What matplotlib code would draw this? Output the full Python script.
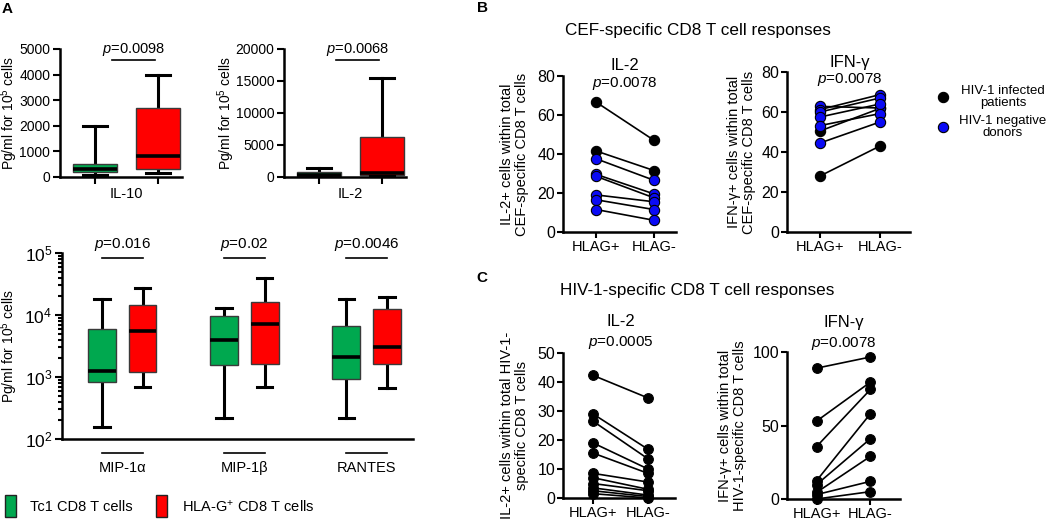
import matplotlib
matplotlib.use('Agg')
import matplotlib.pyplot as plt
import matplotlib.transforms as mtransforms
from matplotlib.patches import Rectangle
from matplotlib.lines import Line2D

plt.rcParams['font.family'] = ['Liberation Sans', 'DejaVu Sans']
plt.rcParams['mathtext.fontset'] = 'custom'
plt.rcParams['mathtext.rm'] = 'Liberation Sans'
plt.rcParams['mathtext.it'] = 'Liberation Sans:italic'
plt.rcParams['mathtext.bf'] = 'Liberation Sans:bold'

# ---------------- DATA ----------------
group_labels = ['Tc1 CD8 T cells', 'HLA-G$^{+}$ CD8 T cells']
# box stats order: [whislo, q1, median, q3, whishi]
top_cytokines = ['IL-10', 'IL-2']
top_pvalues = ['0.0098', '0.0068']
il10_tc1 = [65, 200, 320, 520, 1990]
il10_hlag = [157, 330, 811, 2680, 3966]
il2_tc1 = [20, 100, 330, 790, 1470]
il2_hlag = [80, 250, 620, 6180, 15500]
il10_ticks = [0, 1000, 2000, 3000, 4000, 5000]
il2_ticks = [0, 5000, 10000, 15000, 20000]

chem_names = ['MIP-1α', 'MIP-1β', 'RANTES']
chem_pvalues = ['0.016', '0.02', '0.0046']
mip1a_tc1 = [154, 830, 1247, 5930, 17900]
mip1a_hlag = [690, 1200, 5580, 14560, 27500]
mip1b_tc1 = [217, 1575, 4010, 9460, 13000]
mip1b_hlag = [690, 1600, 7130, 16300, 39800]
rantes_tc1 = [217, 940, 2065, 6550, 17900]
rantes_hlag = [676, 1630, 3090, 12700, 19500]

pair_labels = ['HLAG+', 'HLAG-']
legend_b = ['HIV-1 infected\npatients', 'HIV-1 negative\ndonors']
# Panel B (CEF-specific); status: 1 = HIV-1 infected, 0 = HIV-1 negative
b_status = [1, 1, 0, 0, 0, 0, 0, 0]
b_il2_pos = [66.5, 41.5, 37.5, 29.5, 28.5, 19.0, 16.5, 11.5]
b_il2_neg = [47.0, 31.5, 26.5, 19.5, 17.5, 15.5, 11.5, 6.0]
b_ifn_status = [1, 1, 0, 0, 0, 0, 0, 0]
b_ifn_pos = [28.0, 50.5, 62.8, 61.2, 60.0, 57.5, 53.2, 44.5]
b_ifn_neg = [43.0, 61.8, 62.0, 68.7, 67.0, 64.0, 59.2, 55.0]
b_p = ['0.0078', '0.0078']
# Panel C (HIV-1-specific), all HIV-1 infected
c_il2_pos = [42.3, 29.0, 26.5, 19.0, 15.5, 8.5, 7.0, 5.0, 3.5, 2.5, 1.5]
c_il2_neg = [34.5, 16.8, 13.5, 10.0, 8.5, 5.5, 3.0, 2.5, 1.0, 0.5, 0.0]
c_ifn_pos = [89.0, 53.0, 35.7, 12.5, 9.8, 4.5, 3.0, 0.0]
c_ifn_neg = [96.6, 79.5, 74.5, 58.0, 41.0, 29.0, 12.0, 5.0]
c_p = ['0.0005', '0.0078']

GREEN = '#00A84F'
RED = '#FF0000'
BLUE = '#0A0AF5'

W, H = 1050, 524
fig = plt.figure(figsize=(W / 100, H / 100), dpi=100)


def px_axes(l, t, r, b):
    return fig.add_axes([l / W, 1 - b / H, (r - l) / W, (b - t) / H])


def style(ax, fs=10, xfs=None):
    for s in ['top', 'right']:
        ax.spines[s].set_visible(False)
    for s in ['left', 'bottom']:
        ax.spines[s].set_linewidth(1.8)
    ax.tick_params(axis='both', which='major', length=5, width=1.5,
                   labelsize=fs, direction='out', pad=2)
    if xfs is not None:
        ax.tick_params(axis='x', labelsize=xfs)


def stats(v, label=''):
    return dict(whislo=v[0], q1=v[1], med=v[2], q3=v[3], whishi=v[4],
                fliers=[], label=label)


def draw_boxes(ax, data, positions, width, colors):
    bp = ax.bxp([stats(d) for d in data], positions=positions,
                widths=width, capwidths=width * 0.55, patch_artist=True,
                showfliers=False, manage_ticks=False,
                boxprops=dict(linewidth=1.0, edgecolor='#3a3a3a'),
                whiskerprops=dict(linewidth=2.2, color='black'),
                capprops=dict(linewidth=2.2, color='black'),
                medianprops=dict(linewidth=2.6, color='black'))
    for patch, c in zip(bp['boxes'], colors):
        patch.set_facecolor(c)
    for w in bp['whiskers']:
        w.set_zorder(1)
    for b in bp['boxes']:
        b.set_zorder(2)
    for m in bp['medians']:
        m.set_zorder(3)


# ---------------- Panel A top ----------------
fig.text(7 / W, 1 - 9 / H, 'A', fontsize=11, fontweight='bold', ha='center', va='center')

top_sets = [(il10_tc1, il10_hlag, il10_ticks, 60, 182, 20),
            (il2_tc1, il2_hlag, il2_ticks, 284, 406, 237)]
for i, (g, r, ticks, l, rgt, lab_x) in enumerate(top_sets):
    ax = px_axes(l, 49, rgt, 177)
    style(ax, 10)
    draw_boxes(ax, [g, r], [0, 1], 0.7, [GREEN, RED])
    ax.set_ylim(ticks[0], ticks[-1])
    ax.set_yticks(ticks)
    ax.set_yticklabels([str(t) for t in ticks])
    ax.set_xlim(-0.56, 1.38)
    ax.set_xticks([0, 1])
    ax.set_xticklabels(['', ''])
    ax.set_ylabel('Pg/ml for 10$^{5}$ cells', fontsize=10)
    ax.yaxis.set_label_coords((lab_x - l) / (rgt - l), 0.5)
    trans = mtransforms.blended_transform_factory(ax.transData, ax.transAxes)
    ax.plot([0.27, 0.95], [0.914, 0.914], color='black', lw=1.2,
            transform=trans, clip_on=False)
    ax.text(0.61, 1.0, '$p$=' + top_pvalues[i], fontsize=10.5, ha='center',
            va='center', transform=trans)
    ax.text(0.5, -0.13, top_cytokines[i], fontsize=10.5, ha='center',
            va='center', transform=trans)

# ---------------- Panel A bottom ----------------
axb = px_axes(62, 253, 413, 439)
style(axb, 12.5)
chem_data = [mip1a_tc1, mip1a_hlag, mip1b_tc1, mip1b_hlag, rantes_tc1, rantes_hlag]
positions = []
for k in range(len(chem_names)):
    positions += [3 * k, 3 * k + 1]
draw_boxes(axb, chem_data, positions, 0.68, [GREEN, RED] * 3)
axb.set_yscale('log')
axb.set_ylim(1e2, 1e5)
axb.set_yticks([1e2, 1e3, 1e4, 1e5])
axb.set_yticklabels(['10$^{2}$', '10$^{3}$', '10$^{4}$', '10$^{5}$'])
axb.tick_params(axis='y', which='minor', length=3, width=1.5)
axb.set_xlim(-0.98, 7.64)
axb.set_xticks([])
axb.set_ylabel('Pg/ml for 10$^{5}$ cells', fontsize=10)
axb.yaxis.set_label_coords((20 - 62) / (413 - 62), 0.5)
transb = mtransforms.blended_transform_factory(axb.transData, axb.transAxes)
for k, name in enumerate(chem_names):
    x0, x1 = 3 * k, 3 * k + 1
    axb.plot([x0, x1], [0.973, 0.973], color='black', lw=1.2,
             transform=transb, clip_on=False)
    axb.text((x0 + x1) / 2, 1.045, '$p$=' + chem_pvalues[k], fontsize=11,
             ha='center', va='center', transform=transb)
    axb.plot([x0, x1], [-0.075, -0.075], color='black', lw=1.2,
             transform=transb, clip_on=False)
    axb.text((x0 + x1) / 2, -0.157, name, fontsize=10.5, ha='center',
             va='center', transform=transb)

# legend A
for (x, c, lab, tx) in [(5, GREEN, group_labels[0], 30), (156, RED, group_labels[1], 182)]:
    fig.patches.append(Rectangle((x / W, 1 - 517 / H), 11 / W, 22 / H,
                                 facecolor=c, edgecolor='#222222', lw=1.0,
                                 transform=fig.transFigure, figure=fig))
    fig.text(tx / W, 1 - 507 / H, lab, fontsize=10.5, ha='left', va='center')


# ---------------- Panels B and C ----------------
def paired(l, t, r, b, xlim, pos, neg, status, ylim, yticks, title, p, ylabel,
           msize=7.4, title_y=None, p_y=None, lpad=6):
    ax = px_axes(l, t, r, b)
    style(ax, 11.5, 10.5)
    ax.tick_params(axis='both', length=4, pad=1.5)
    for a, bb in zip(pos, neg):
        ax.plot([0, 1], [a, bb], color='black', lw=1.2, zorder=2)
    order = sorted(range(len(pos)), key=lambda k: -status[k])
    for k in order:
        c = 'black' if status[k] == 1 else BLUE
        ax.plot([0, 1], [pos[k], neg[k]], ls='none', marker='o', ms=msize,
                mfc=c, mec='black', mew=0.8, zorder=3 + (1 - status[k]),
                clip_on=False)
    ax.set_xlim(*xlim)
    ax.set_ylim(*ylim)
    ax.set_yticks(yticks)
    ax.set_xticks([0, 1])
    ax.set_xticklabels(pair_labels)
    ax.set_ylabel(ylabel, fontsize=10.5, labelpad=lpad, linespacing=1.1)
    trans = mtransforms.blended_transform_factory(ax.transData, ax.transAxes)
    ax.text(0.5, title_y, title, fontsize=12, ha='center', va='center',
            transform=trans)
    ax.text(0.5, p_y, '$p$=' + p, fontsize=11, ha='center', va='center',
            transform=trans)
    return ax


fig.text(482 / W, 1 - 8 / H, 'B', fontsize=11, fontweight='bold', ha='center', va='center')
fig.text(565 / W, 1 - 31 / H, 'CEF-specific CD8 T cell responses', fontsize=12.3,
         ha='left', va='center')

paired(563, 76, 676, 232, (-0.58, 1.38), b_il2_pos, b_il2_neg, b_status,
       (0, 80), [0, 20, 40, 60, 80], 'IL-2', b_p[0],
       'IL-2+ cells within total\nCEF-specific CD8 T cells',
       title_y=1.07, p_y=0.955)
paired(787, 72, 910, 232, (-0.55, 1.5), b_ifn_pos, b_ifn_neg, b_ifn_status,
       (0, 80), [0, 20, 40, 60, 80], 'IFN-γ', b_p[1],
       'IFN-γ+ cells within total\nCEF-specific CD8 T cells',
       title_y=1.06, p_y=0.955, lpad=4)

# legend B
for (yy, c, lab) in [(97, 'black', legend_b[0]), (127, BLUE, legend_b[1])]:
    fig.lines.append(Line2D([943 / W], [1 - yy / H], marker='o', ms=7.4,
                            mfc=c, mec='black', mew=0.8, ls='none',
                            transform=fig.transFigure))
    fig.text(1003 / W, 1 - yy / H, lab, fontsize=9.5, ha='center', va='center',
             linespacing=1.0)

fig.text(482 / W, 1 - 278 / H, 'C', fontsize=11, fontweight='bold', ha='center', va='center')
fig.text(560 / W, 1 - 290 / H, 'HIV-1-specific CD8 T cell responses', fontsize=12.3,
         ha='left', va='center')

paired(563, 353, 675, 498, (-0.545, 1.49), c_il2_pos, c_il2_neg,
       [1] * len(c_il2_pos), (0, 50), [0, 10, 20, 30, 40, 50], 'IL-2', c_p[0],
       'IL-2+ cells within total HIV-1-\nspecific CD8 T cells', msize=7.0,
       title_y=1.22, p_y=1.07)
paired(787, 352, 900, 499, (-0.55, 1.55), c_ifn_pos, c_ifn_neg,
       [1] * len(c_ifn_pos), (0, 100), [0, 50, 100], 'IFN-γ', c_p[1],
       'IFN-γ+ cells within total\nHIV-1-specific CD8 T cells', msize=7.0,
       title_y=1.2, p_y=1.06, lpad=4)

fig.savefig('out.png', dpi=100)
